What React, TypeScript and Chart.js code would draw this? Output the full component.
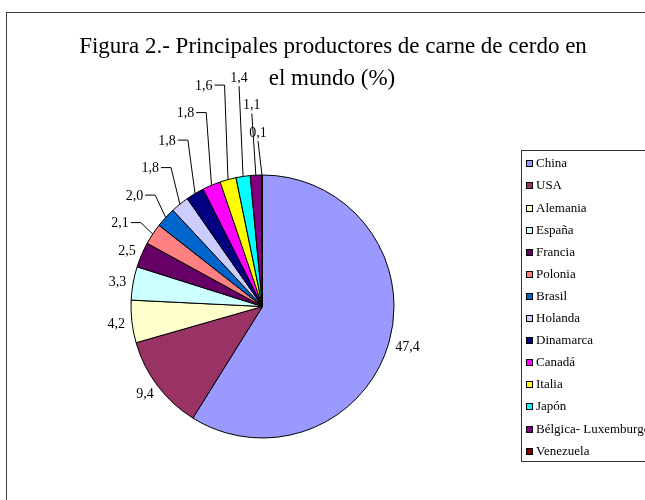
import { useEffect, useRef } from 'react';
import { Chart, registerables } from 'chart.js';

Chart.register(...registerables);

const categories = [
  'China', 'USA', 'Alemania', 'España', 'Francia', 'Polonia', 'Brasil',
  'Holanda', 'Dinamarca', 'Canadá', 'Italia', 'Japón', 'Bélgica- Luxemburgo', 'Venezuela',
];
const shares = [47.4, 9.4, 4.2, 3.3, 2.5, 2.1, 2.0, 1.8, 1.8, 1.8, 1.6, 1.4, 1.1, 0.1];
const sliceColors = [
  '#9999FF', '#993366', '#FFFFCC', '#CCFFFF', '#660066', '#FF8080', '#0066CC',
  '#CCCCFF', '#000080', '#FF00FF', '#FFFF00', '#00FFFF', '#800080', '#800000',
];
const titleLines = ['Figura 2.- Principales productores de carne de cerdo en', 'el mundo (%)'];

const fmt = (v: number) => v.toFixed(1).replace('.', ',');

const SERIF = '"Liberation Serif", "Times New Roman", serif';

const decorPlugin = {
  id: 'excelDecor',
  beforeDraw(chart: any) {
    const ctx = chart.ctx as CanvasRenderingContext2D;
    ctx.save();
    ctx.fillStyle = '#ffffff';
    ctx.fillRect(0, 0, chart.width, chart.height);
    // outer frame (cropped on the right and bottom)
    ctx.strokeStyle = '#3a3a3a';
    ctx.lineWidth = 1;
    ctx.strokeRect(6.5, 12.5, chart.width + 20, chart.height + 20);
    // title
    ctx.fillStyle = '#000';
    ctx.font = `23px ${SERIF}`;
    ctx.textAlign = 'center';
    ctx.textBaseline = 'alphabetic';
    ctx.fillText(titleLines[0], 333, 53);
    ctx.fillText(titleLines[1], 332, 85);
    ctx.restore();
  },
  afterDatasetsDraw(chart: any) {
    const ctx = chart.ctx as CanvasRenderingContext2D;
    const meta = chart.getDatasetMeta(0);
    const values = chart.data.datasets[0].data as number[];
    ctx.save();
    ctx.font = `14px ${SERIF}`;
    const items = meta.data.map((arc: any, i: number) => {
      const p = arc.getProps(['x', 'y', 'startAngle', 'endAngle', 'outerRadius'], true);
      const mid = (p.startAngle + p.endAngle) / 2;
      const dx = Math.cos(mid);
      const dy = Math.sin(mid);
      const text = fmt(values[i]);
      const w = ctx.measureText(text).width;
      const gap = 7;
      return {
        text, w, dx, dy,
        ex: p.x + dx * p.outerRadius,
        ey: p.y + dy * p.outerRadius,
        cx: p.x + dx * (p.outerRadius + gap) + (dx * w) / 2,
        cy: p.y + dy * (p.outerRadius + gap + 5),
        mode: 'natural',
      };
    });

    // Stack the left-side labels upward, then fold the rest down from the apex
    const H = 27.5;
    const topLimit = chart.chartArea.top - 100;
    const left = items.filter((it: any) => it.dx < 0);
    let prevY = Infinity;
    let k = 0;
    for (; k < left.length; k++) {
      const it = left[k];
      const y = Math.min(it.cy, prevY - H);
      if (y < topLimit) break;
      if (y < it.cy - 0.5) {
        it.mode = 'side';
        it.cy = y;
        const g = 11.5 + 15 * Math.abs(it.dx);
        it.cx = it.ex - g - it.w / 2;
      }
      prevY = it.cy;
    }
    const apex = prevY;
    for (let j = k; j < left.length; j++) {
      const it = left[j];
      it.mode = 'top';
      it.cy = Math.min(it.cy, apex - 8 + (j - k) * H);
      it.cx = it.ex - 4;
    }

    ctx.strokeStyle = '#000';
    ctx.lineWidth = 1;
    ctx.fillStyle = '#000';
    ctx.textAlign = 'center';
    ctx.textBaseline = 'middle';
    for (const it of items) {
      if (it.mode === 'side') {
        const right = it.cx + it.w / 2;
        const g = it.ex - right;
        ctx.beginPath();
        ctx.moveTo(right + 2, it.cy);
        ctx.lineTo(right + Math.min(12, g - 3), it.cy);
        ctx.lineTo(it.ex, it.ey);
        ctx.stroke();
      } else if (it.mode === 'top') {
        ctx.beginPath();
        ctx.moveTo(it.cx, it.cy + 9);
        ctx.lineTo(it.ex, it.ey);
        ctx.stroke();
      }
      ctx.fillText(it.text, it.cx, it.cy + 1);
    }
    ctx.restore();
  },
  afterDraw(chart: any) {
    const ctx = chart.ctx as CanvasRenderingContext2D;
    const labels = chart.data.labels as string[];
    const colors = chart.data.datasets[0].backgroundColor as string[];
    ctx.save();
    const lx = chart.width - 124;
    const ly = 150;
    const step = 22.1;
    ctx.strokeStyle = '#333';
    ctx.lineWidth = 1;
    ctx.strokeRect(lx + 0.5, ly + 0.5, 200, 311);
    ctx.font = `13px ${SERIF}`;
    ctx.textAlign = 'left';
    ctx.textBaseline = 'middle';
    labels.forEach((lab, i) => {
      const yc = Math.round(ly + 13.3 + i * step);
      ctx.fillStyle = colors[i];
      ctx.fillRect(lx + 5, yc - 3, 7, 7);
      ctx.strokeStyle = '#000';
      ctx.strokeRect(lx + 5.5, yc - 2.5, 6, 6);
      ctx.fillStyle = '#000';
      ctx.fillText(lab, lx + 15, yc + 1);
    });
    ctx.restore();
  },
};

export default function App() {
  const ref = useRef<HTMLCanvasElement | null>(null);
  useEffect(() => {
    if (!ref.current) return;
    const chart = new Chart(ref.current, {
      type: 'pie',
      data: {
        labels: categories,
        datasets: [
          {
            data: shares,
            backgroundColor: sliceColors,
            borderColor: '#000',
            borderWidth: 1,
            radius: 131.5,
          } as any,
        ],
      },
      options: {
        responsive: false,
        devicePixelRatio: 1,
        animation: false,
        layout: { padding: { left: 130, right: 250, top: 174, bottom: 61 } },
        plugins: {
          legend: { display: false },
          title: { display: false },
          tooltip: { enabled: false },
        },
      },
      plugins: [decorPlugin],
    });
    return () => chart.destroy();
  }, []);
  return (
    <div style={{ position: 'absolute', left: 0, top: 0, width: 645, height: 500, overflow: 'hidden' }}>
      <canvas ref={ref} width={645} height={500} style={{ display: 'block', width: 645, height: 500 }} />
    </div>
  );
}
